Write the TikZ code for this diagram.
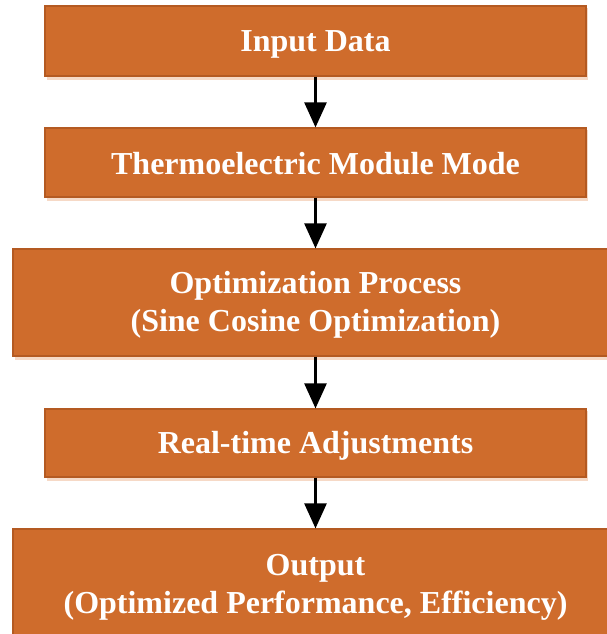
\documentclass[tikz,border=0pt]{standalone}
\usepackage{fontspec}
\setmainfont{Liberation Serif}
\usetikzlibrary{arrows.meta}
\definecolor{boxfill}{HTML}{CF6C2C}
\definecolor{boxedge}{HTML}{B45A22}
\definecolor{shadowc}{HTML}{F6D9C6}
\tikzset{
  flowbox/.style={draw=boxedge, line width=1.2pt, fill=boxfill, inner sep=0pt},
  boxtext/.style={text=white, font=\fontsize{32}{38}\selectfont\bfseries, align=center, inner sep=0pt},
  flowarrow/.style={line width=2.6pt, -{Triangle[width=22pt,length=25pt]}},
}
\begin{document}
\begin{tikzpicture}[x=1pt,y=-1pt]
\useasboundingbox (0,0) rectangle (607,634);
\clip (0,0) rectangle (607,634);
% shadows
\fill[shadowc] (47,8) rectangle (588,80);
\fill[shadowc] (47,130) rectangle (588,201);
\fill[shadowc] (15,251) rectangle (620,360);
\fill[shadowc] (47,411) rectangle (588,481);
% boxes
\node[flowbox, minimum width=541pt, minimum height=70pt] (b1) at (315.5,41) {};
\node[flowbox, minimum width=541pt, minimum height=69pt] (b2) at (315.5,162.5) {};
\node[flowbox, minimum width=605pt, minimum height=107pt] (b3) at (315.5,302.5) {};
\node[flowbox, minimum width=541pt, minimum height=68pt] (b4) at (315.5,443) {};
\node[flowbox, minimum width=605pt, minimum height=110pt] (b5) at (315.5,584) {};
% texts
\node[boxtext] (t1) at ([yshift=-3pt]b1.center) {Input Data};
\node[boxtext] (t2) at ([yshift=-1pt]b2.center) {Thermoelectric Module Mode};
\node[boxtext] (t3) at ([yshift=-2pt]b3.center) {Optimization Process\\(Sine Cosine Optimization)};
\node[boxtext] (t4) at ([yshift=-3pt]b4.center) {Real-time Adjustments};
\node[boxtext] (t5) at ([yshift=-3pt]b5.center) {Output\\(Optimized Performance, Efficiency)};
% arrows
\draw[flowarrow] (b1.south) -- (b2.north);
\draw[flowarrow] (b2.south) -- (b3.north);
\draw[flowarrow] (b3.south) -- (b4.north);
\draw[flowarrow] (b4.south) -- (b5.north);
\end{tikzpicture}
\end{document}
